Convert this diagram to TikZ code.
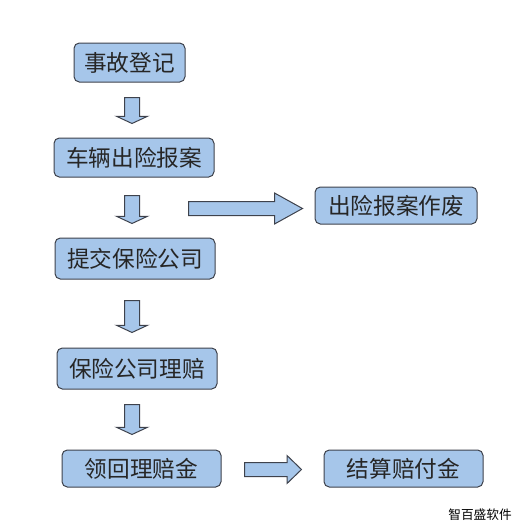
\documentclass[tikz,border=0pt]{standalone}
\usepackage{fontspec}
\newfontfamily\cjk{Noto Sans CJK SC}
\usetikzlibrary{shapes.arrows}

\definecolor{boxfill}{RGB}{166,198,234}
\definecolor{boxline}{RGB}{62,66,76}

\tikzset{every picture/.style={line width=0.75pt}}
\tikzset{
  stepbox/.style={draw=boxline, fill=boxfill, rounded corners=4pt, inner sep=0pt,
    text=black!85, font=\cjk\fontsize{17}{20}\selectfont},
  blockarrow/.style={single arrow, draw=boxline, fill=boxfill, single arrow head indent=0pt, anchor=tail},
  downarrow/.style={blockarrow, shape border rotate=270, inner sep=5.25pt,
    single arrow head extend=6pt, single arrow tip angle=130},
}

\begin{document}
\begin{tikzpicture}[x=0.75pt,y=0.75pt,yscale=-1,xscale=1]
\path[use as bounding box] (0,0) rectangle (523,529);

%Rounded Rect
\node[stepbox, minimum width=83.25pt, minimum height=29.25pt] (dengji) at (129.5,62.5) {事故登记};
%Rounded Rect
\node[stepbox, minimum width=120pt, minimum height=29.25pt] (baoan) at (134,157.5) {车辆出险报案};
%Rounded Rect
\node[stepbox, minimum width=121.5pt, minimum height=27.75pt] (zuofei) at (396,205.5) {出险报案作废};
%Rounded Rect
\node[stepbox, minimum width=120pt, minimum height=30.75pt] (tijiao) at (135,258.5) {提交保险公司};
%Rounded Rect
\node[stepbox, minimum width=120pt, minimum height=30.75pt] (lipei) at (137,368.5) {保险公司理赔};
%Rounded Rect
\node[stepbox, minimum width=119.25pt, minimum height=27.75pt] (linghui) at (141.5,468.5) {领回理赔金};
%Rounded Rect
\node[stepbox, minimum width=119.25pt, minimum height=27.75pt] (jiesuan) at (403.5,468.5) {结算赔付金};

%Block Arrows
\node[downarrow, minimum height=19.5pt] (da1) at (132,97) {};
\node[downarrow, minimum height=21pt] (da2) at (132,195) {};
\node[downarrow, minimum height=24pt] (da3) at (132,300) {};
\node[downarrow, minimum height=22.5pt] (da4) at (132,404) {};
\node[blockarrow, inner sep=4.875pt, single arrow head extend=6.375pt,
  single arrow tip angle=58, minimum height=85.5pt] (ra1) at (188,208.5) {};
\node[blockarrow, inner sep=4.875pt, single arrow head extend=5.25pt,
  single arrow tip angle=88, minimum height=42.75pt] (ra2) at (244,469.5) {};

% Text Node
\node[inner sep=0pt, font=\cjk\fontsize{9.5}{11}\selectfont] (mark) at (480,515) {智百盛软件};

\end{tikzpicture}
\end{document}
